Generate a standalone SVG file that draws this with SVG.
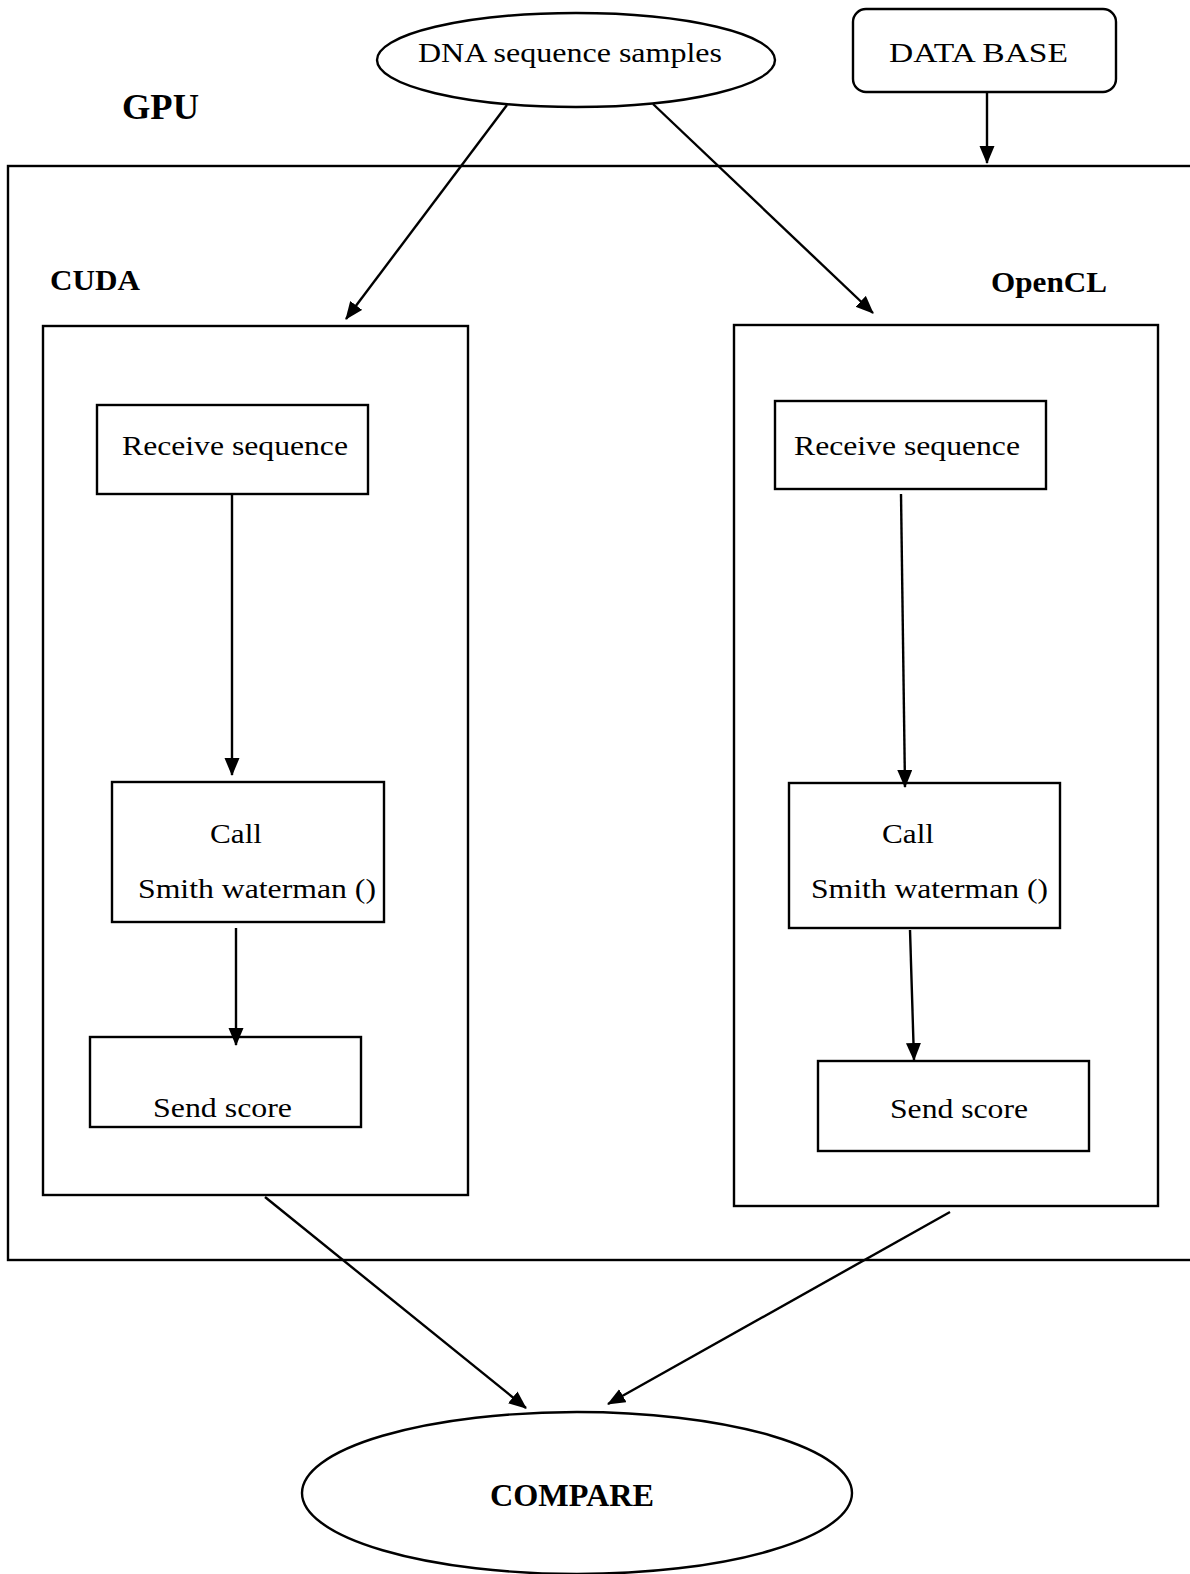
<svg xmlns="http://www.w3.org/2000/svg" width="1190" height="1574" viewBox="0 0 1190 1574">
<style>
.s{fill:none;stroke:#000;stroke-width:2.4}
.t{font-family:"Liberation Serif","Times New Roman",serif;font-size:28px;fill:#000}
.b{font-family:"Liberation Serif","Times New Roman",serif;font-weight:bold;fill:#000}
.c{fill:none;stroke:#000;stroke-width:2.4;marker-end:url(#ah)}
</style>
<defs>
<marker id="ah" markerUnits="userSpaceOnUse" markerWidth="20" markerHeight="16" refX="17" refY="7.5" orient="auto">
<path d="M0,0 L18,7.5 L0,15 Z" fill="#000"/>
</marker>
</defs>
<rect width="1190" height="1574" fill="#fff"/>
<g id="gpu">
<rect class="s" x="8" y="166" width="1200" height="1094"/>
<text class="b" x="122" y="119" font-size="35" textLength="77" lengthAdjust="spacingAndGlyphs">GPU</text>
</g>
<g id="dna">
<ellipse class="s" cx="576" cy="60" rx="199" ry="47"/>
<text class="t" x="418" y="62" textLength="304" lengthAdjust="spacingAndGlyphs">DNA sequence samples</text>
</g>
<g id="database">
<rect class="s" x="853" y="9" width="263" height="83" rx="13" ry="13"/>
<text class="t" x="889" y="62" textLength="179" lengthAdjust="spacingAndGlyphs">DATA BASE</text>
</g>
<g id="cuda">
<text class="b" x="50" y="290" font-size="30" textLength="90" lengthAdjust="spacingAndGlyphs">CUDA</text>
<rect class="s" x="43" y="326" width="425" height="869"/>
</g>
<g id="cuda-receive">
<rect class="s" x="97" y="405" width="271" height="89"/>
<text class="t" x="122" y="455" textLength="226" lengthAdjust="spacingAndGlyphs">Receive sequence</text>
</g>
<g id="cuda-call">
<rect class="s" x="112" y="782" width="272" height="140"/>
<text class="t" x="210" y="843" textLength="52" lengthAdjust="spacingAndGlyphs">Call</text>
<text class="t" x="138" y="898" textLength="238" lengthAdjust="spacingAndGlyphs">Smith waterman ()</text>
</g>
<g id="cuda-send">
<rect class="s" x="90" y="1037" width="271" height="90"/>
<text class="t" x="153" y="1117" textLength="139" lengthAdjust="spacingAndGlyphs">Send score</text>
</g>
<g id="opencl">
<text class="b" x="991" y="292" font-size="30" textLength="116" lengthAdjust="spacingAndGlyphs">OpenCL</text>
<rect class="s" x="734" y="325" width="424" height="881"/>
</g>
<g id="opencl-receive">
<rect class="s" x="775" y="401" width="271" height="88"/>
<text class="t" x="794" y="455" textLength="226" lengthAdjust="spacingAndGlyphs">Receive sequence</text>
</g>
<g id="opencl-call">
<rect class="s" x="789" y="783" width="271" height="145"/>
<text class="t" x="882" y="843" textLength="52" lengthAdjust="spacingAndGlyphs">Call</text>
<text class="t" x="811" y="898" textLength="237" lengthAdjust="spacingAndGlyphs">Smith waterman ()</text>
</g>
<g id="opencl-send">
<rect class="s" x="818" y="1061" width="271" height="90"/>
<text class="t" x="890" y="1118" textLength="138" lengthAdjust="spacingAndGlyphs">Send score</text>
</g>
<g id="compare">
<ellipse class="s" cx="577" cy="1493" rx="275" ry="81"/>
<text class="b" x="490" y="1506" font-size="32" textLength="164" lengthAdjust="spacingAndGlyphs">COMPARE</text>
</g>
<g id="connectors">
<line class="c" x1="987" y1="92" x2="987" y2="163"/>
<line class="c" x1="507" y1="105" x2="346" y2="319"/>
<line class="c" x1="653" y1="104" x2="873" y2="313"/>
<line class="c" x1="232" y1="495" x2="232" y2="775"/>
<line class="c" x1="236" y1="928" x2="236" y2="1045"/>
<line class="c" x1="901" y1="494" x2="905" y2="787"/>
<line class="c" x1="910" y1="930" x2="914" y2="1060"/>
<line class="c" x1="265" y1="1197" x2="526" y2="1408"/>
<line class="c" x1="950" y1="1212" x2="608" y2="1404"/>
</g>
</svg>
